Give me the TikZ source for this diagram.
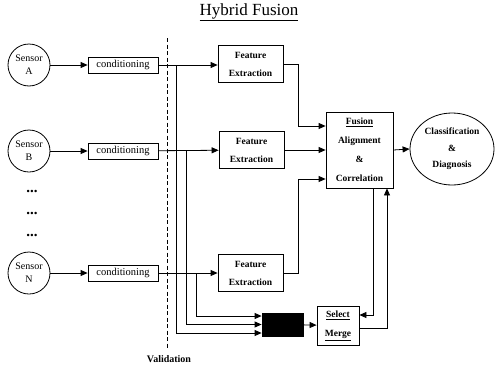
\documentclass[tikz,border=0pt]{standalone}
\usepackage{fontspec}
\setmainfont{Liberation Serif}
\usetikzlibrary{arrows.meta,shapes.geometric}
\tikzset{
  box/.style={draw, line width=0.8pt, inner sep=0pt, align=center},
  sensor/.style={draw, circle, line width=0.8pt, minimum size=42pt, inner sep=0pt, align=center, font=\fontsize{10}{13}\selectfont},
  condbox/.style={box, minimum width=70pt, minimum height=16pt, font=\fontsize{10.5}{12}\selectfont},
  febox/.style={box, minimum width=65pt, minimum height=37pt, font=\bfseries\fontsize{9.5}{18}\selectfont},
  arr/.style={-{Triangle[length=7pt,width=6pt]}, line width=0.8pt},
  ln/.style={line width=0.8pt},
  dots/.style={font=\bfseries\fontsize{15}{15}\selectfont, inner sep=0pt}
}
\begin{document}
\begin{tikzpicture}[x=1pt,y=-1pt]
\useasboundingbox (0,0) rectangle (495,367);
% title
\node[font=\fontsize{17}{20}\selectfont] (title) at (249,12) {\underline{Hybrid Fusion}};
% sensors
\node[sensor] (sA) at (29,65) {Sensor\\A};
\node[sensor] (sB) at (29,151) {Sensor\\B};
\node[sensor] (sN) at (29,273) {Sensor\\N};
\node[dots, anchor=base] (d1) at (32,192) {...};
\node[dots, anchor=base] (d2) at (32,214) {...};
\node[dots, anchor=base] (d3) at (32,236) {...};
% conditioning
\node[condbox] (cA) at (123,65) {conditioning};
\node[condbox] (cB) at (123,151) {conditioning};
\node[condbox] (cN) at (123,273) {conditioning};
% validation line
\coordinate (vt) at (167,38);
\coordinate (vb) at (167,348);
\draw[ln, dash pattern=on 4pt off 2.5pt] (vt) -- (vb);
\node[font=\bfseries\fontsize{10}{12}\selectfont] (val) at (169,359) {Validation};
% feature extraction
\node[febox] (fA) at (250.5,64) {Feature\\Extraction};
\node[febox] (fB) at (251.5,150) {Feature\\Extraction};
\node[febox] (fN) at (250.5,273) {Feature\\Extraction};
% fusion
\node[box, minimum width=67pt, minimum height=76pt, font=\bfseries\fontsize{9.5}{19}\selectfont] (fus) at (359.5,150) {\underline{Fusion}\\Alignment\\\&\\Correlation};
% classification
\node[draw, ellipse, line width=0.8pt, minimum width=84pt, minimum height=72pt, inner sep=0pt, align=center, font=\bfseries\fontsize{9.5}{16.5}\selectfont] (cls) at (452,149) {Classification\\\&\\Diagnosis};
% black box and select/merge
\node[box, fill=black, minimum width=41pt, minimum height=23pt] (blk) at (282.5,324.5) {};
\node[box, minimum width=42pt, minimum height=39pt, font=\bfseries\fontsize{9.5}{19}\selectfont] (sel) at (338,325.5) {\underline{Select}\\\underline{Merge}};
% sensor -> conditioning
\draw[arr] (sA) -- (cA);
\draw[arr] (sB) -- (cB);
\draw[arr] (sN) -- (cN);
% conditioning -> feature extraction
\draw[arr] (cA.east) -- (fA.west |- cA.east);
\draw[arr] (cB) -- (fB);
\draw[arr] (cN) -- (fN);
% branches to black box
\coordinate (jA) at (176,65);
\coordinate (jB) at (186,151);
\coordinate (jN) at (196,273);
\draw[arr] (jA) |- ([yshift=-8.5pt]blk.west);
\draw[arr] (jB) |- (blk.west);
\draw[arr] (jN) |- ([yshift=8.5pt]blk.west);
% feature extraction -> fusion
\draw[arr] (fA.east) -- ++(15,0) |- ([yshift=24pt]fus.west);
\draw[arr] (fB.east) -- (fus.west);
\draw[arr] (fN.east) -- ++(15,0) |- ([yshift=-29pt]fus.west);
% fusion -> classification
\draw[arr] (fus.east) -- (cls.west);
% black box -> select
\draw[arr] (blk) -- (sel);
% feedback loop
\draw[arr] ([xshift=13.5pt]fus.south) |- ([yshift=10.5pt]sel.east);
\draw[arr] ([yshift=-2.5pt]sel.east) -| ([xshift=27.5pt]fus.south);
\end{tikzpicture}
\end{document}
